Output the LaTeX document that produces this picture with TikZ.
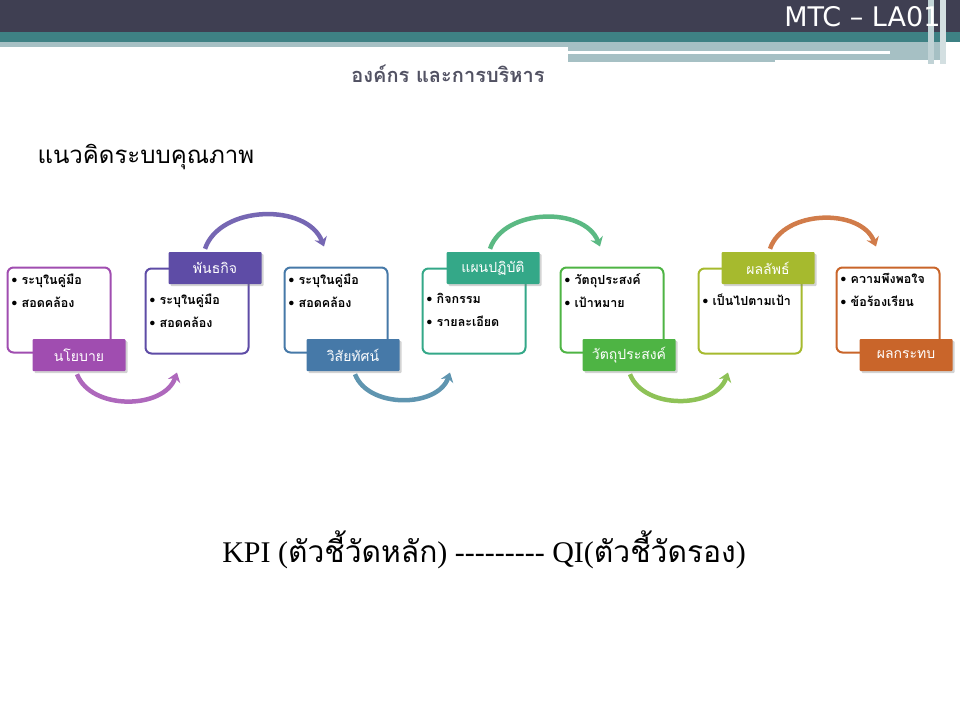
\documentclass[tikz,border=0pt]{standalone}
\usepackage{fontspec}
\newfontfamily\thaifont[Script=Thai]{Loma}
\newfontfamily\hdfont{DejaVu Sans}
\newfontfamily\serifthai[Script=Thai]{Loma}
\newfontfamily\latinserif{Liberation Serif}
\usetikzlibrary{arrows.meta,positioning,shadows}

\definecolor{hdark}{HTML}{3F3F52}
\definecolor{hteal}{HTML}{3E8184}
\definecolor{hlight}{HTML}{A6C0C4}
\definecolor{cpol}{HTML}{A04DB0}
\definecolor{cmis}{HTML}{5E4CA6}
\definecolor{cvis}{HTML}{4679A8}
\definecolor{cplan}{HTML}{34A888}
\definecolor{cobj}{HTML}{4EB444}
\definecolor{cres}{HTML}{A6BA2E}
\definecolor{cimp}{HTML}{C9652A}

\tikzset{
  stagebox/.style={draw=#1, line width=2pt, rounded corners=6pt, fill=white,
    minimum width=103pt, minimum height=85pt},
  tagbox/.style={fill=#1, text=white, font=\thaifont\fontsize{14}{16}\selectfont,
    minimum width=93pt, minimum height=32pt, rounded corners=1pt,
    drop shadow={opacity=0.35, shadow xshift=2pt, shadow yshift=-2pt}},
  bul/.style={anchor=north west, align=left, inner sep=0pt,
    font=\thaifont\bfseries\fontsize{12.5}{23}\selectfont},
  arcb/.style={line width=4.5pt, -{Stealth[length=9pt,width=13pt]}, #1!85}
}

\begin{document}
\begin{tikzpicture}[x=1pt,y=-1pt]
  \useasboundingbox (0,0) rectangle (960,720);
  % header
  \fill[hdark] (0,0) rectangle (960,32);
  \fill[hteal] (0,32) rectangle (960,42);
  \fill[hlight] (0,42) rectangle (568,47);
  \fill[hlight] (568,42) rectangle (940,62);
  \fill[white] (8,51) rectangle (890,54);
  \fill[white] (775,60) rectangle (940,64);
  \fill[hlight!70] (928,0) rectangle (934,64);
  \fill[hlight!50] (940,0) rectangle (946,64);
  \node[anchor=east, text=white, font=\hdfont\fontsize{27}{29}\selectfont] (code) at (944,17) {MTC – LA01};
  \node[text=hdark!90, font=\thaifont\bfseries\fontsize{20}{22}\selectfont] (title) at (448,74) {องค์กร และการบริหาร};
  \node[anchor=west, font=\thaifont\fontsize{24}{26}\selectfont] (head) at (34,157) {แนวคิดระบบคุณภาพ};

  % stage boxes
  \node[stagebox=cpol] (b1) at (59,310) {};
  \node[stagebox=cmis] (b2) at (197,311) {};
  \node[stagebox=cvis] (b3) at (336,310) {};
  \node[stagebox=cplan] (b4) at (474,311) {};
  \node[stagebox=cobj] (b5) at (612,310) {};
  \node[stagebox=cres] (b6) at (750,311) {};
  \node[stagebox=cimp] (b7) at (888,310) {};

  \node[bul] at ([xshift=5pt,yshift=-7pt]b1.north west) {• ระบุในคู่มือ\\• สอดคล้อง};
  \node[bul] at ([xshift=5pt,yshift=-26pt]b2.north west) {• ระบุในคู่มือ\\• สอดคล้อง};
  \node[bul] at ([xshift=5pt,yshift=-7pt]b3.north west) {• ระบุในคู่มือ\\• สอดคล้อง};
  \node[bul] at ([xshift=5pt,yshift=-26pt]b4.north west) {• กิจกรรม\\• รายละเอียด};
  \node[bul] at ([xshift=5pt,yshift=-7pt]b5.north west) {• วัตถุประสงค์\\• เป้าหมาย};
  \node[bul] at ([xshift=5pt,yshift=-26pt]b6.north west) {• เป็นไปตามเป้า};
  \node[bul] at ([xshift=5pt,yshift=-7pt]b7.north west) {• ความพึงพอใจ\\• ข้อร้องเรียน};

  % tags
  \node[tagbox=cpol] (pol) at (79,355) {นโยบาย};
  \node[tagbox=cmis] (mis) at (215,268) {พันธกิจ};
  \node[tagbox=cvis] (vis) at (353,355) {วิสัยทัศน์};
  \node[tagbox=cplan] (plan) at (493,268) {แผนปฏิบัติ};
  \node[tagbox=cobj] (obj) at (629,355) {วัตถุประสงค์};
  \node[tagbox=cres] (res) at (768,268) {ผลลัพธ์};
  \node[tagbox=cimp] (imp) at (906,355) {ผลกระทบ};

  % arcs
  \draw[arcb=cpol] ([xshift=-2pt,yshift=-3pt]pol.south) to[bend right=70] ([xshift=-20pt,yshift=-18pt]b2.south);
  \draw[arcb=cmis] ([xshift=-10pt,yshift=3pt]mis.north) to[bend left=70] ([xshift=-12pt,yshift=20pt]b3.north);
  \draw[arcb=cvis!80!cplan] ([xshift=2pt,yshift=-3pt]vis.south) to[bend right=70] ([xshift=-24pt,yshift=-18pt]b4.south);
  \draw[arcb=cplan!60!cobj] ([xshift=-3pt,yshift=3pt]plan.north) to[bend left=70] ([xshift=-12pt,yshift=20pt]b5.north);
  \draw[arcb=cobj!50!cres] ([xshift=1pt,yshift=-3pt]obj.south) to[bend right=70] ([xshift=-22pt,yshift=-18pt]b6.south);
  \draw[arcb=cimp] ([xshift=2pt,yshift=3pt]res.north) to[bend left=70] ([xshift=-12pt,yshift=20pt]b7.north);

  % bottom line
  \node[font=\fontsize{30}{34}\selectfont] (kpi) at (484,550) {{\latinserif KPI (}{\thaifont ตัวชี้วัดหลัก}{\latinserif ) --------- QI(}{\thaifont ตัวชี้วัดรอง}{\latinserif )}};
\end{tikzpicture}
\end{document}
